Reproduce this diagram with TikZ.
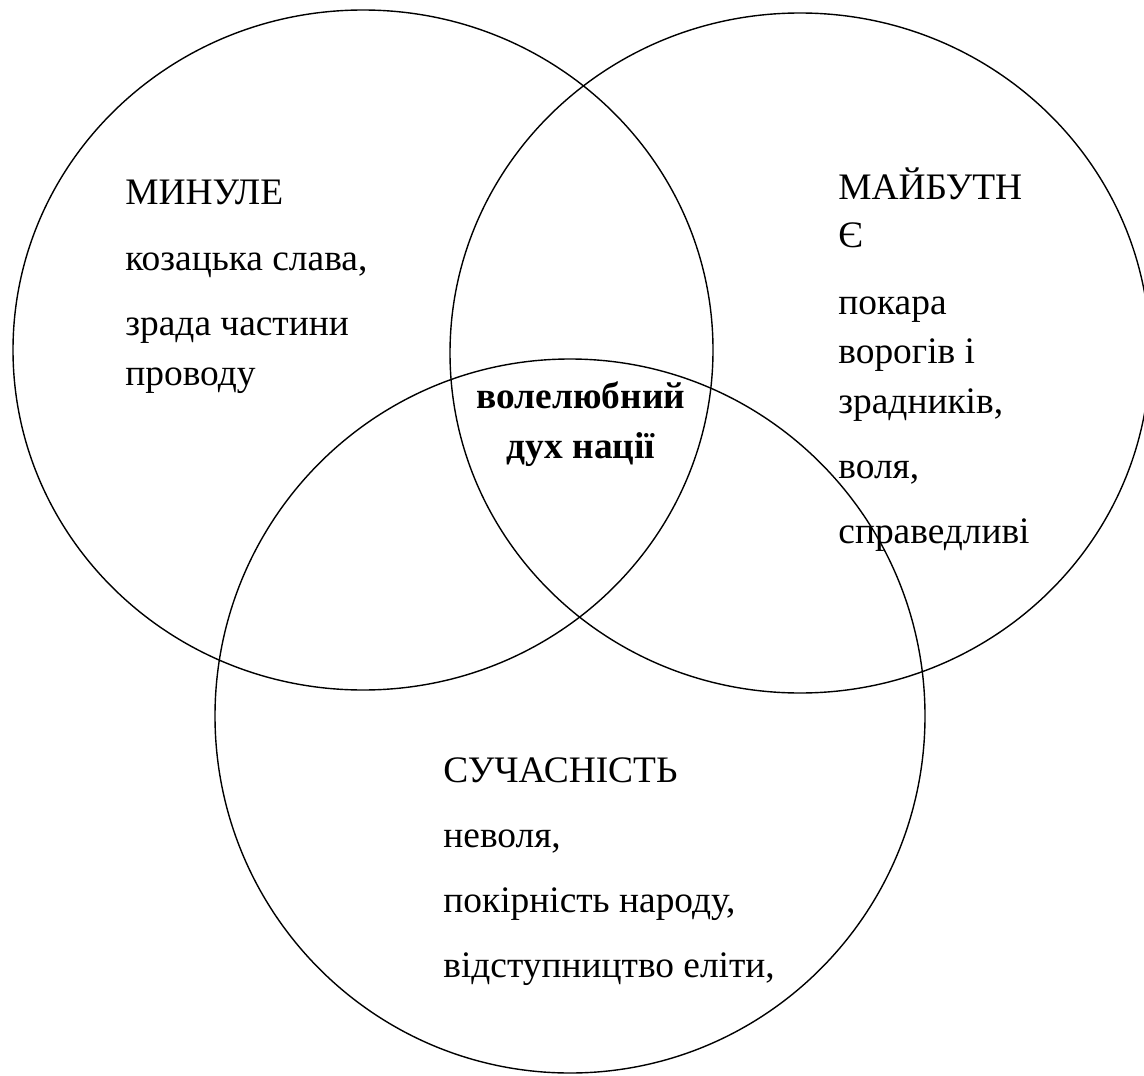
\documentclass[tikz,border=0pt]{standalone}
\usepackage{fontspec}
\setmainfont{Liberation Serif}
\begin{document}
\begin{tikzpicture}[x=0.5pt,y=-0.5pt,
  venn/.style={draw=black,line width=0.7pt},
  txt/.style={anchor=base west,inner sep=0pt,font=\fontsize{18.7}{25}\selectfont},
  core/.style={anchor=base,inner sep=0pt,font=\fontsize{18.7}{25}\selectfont\bfseries}]
\useasboundingbox (0,0) rectangle (1144,1075);
\draw[venn] (363,350) ellipse [x radius=175pt, y radius=170pt];
\draw[venn] (800,353) ellipse [x radius=175pt, y radius=170pt];
\draw[venn] (570,716) ellipse [x radius=177.5pt, y radius=178.5pt];
% past
\node[txt] (p1) at (125,205) {МИНУЛЕ};
\node[txt] (p2) at (125,270) {козацька слава,};
\node[txt] (p3) at (125,335) {зрада частини};
\node[txt] (p4) at (125,385) {проводу};
% future
\node[txt] (f1) at (838,199) {МАЙБУТН};
\node[txt] (f2) at (838,248) {Є};
\node[txt] (f3) at (838,314) {покара};
\node[txt] (f4) at (838,363) {ворогів і};
\node[txt] (f5) at (838,413) {зрадників,};
\node[txt] (f6) at (838,478) {воля,};
\node[txt] (f7) at (838,543) {справедливі};
% present
\node[txt] (s1) at (443,782) {СУЧАСНІСТЬ};
\node[txt] (s2) at (443,847) {неволя,};
\node[txt] (s3) at (443,912) {покірність народу,};
\node[txt] (s4) at (443,977) {відступництво еліти,};
% centre
\node[core] (c1) at (581,408) {волелюбний};
\node[core] (c2) at (581,458) {дух нації};
\end{tikzpicture}
\end{document}
